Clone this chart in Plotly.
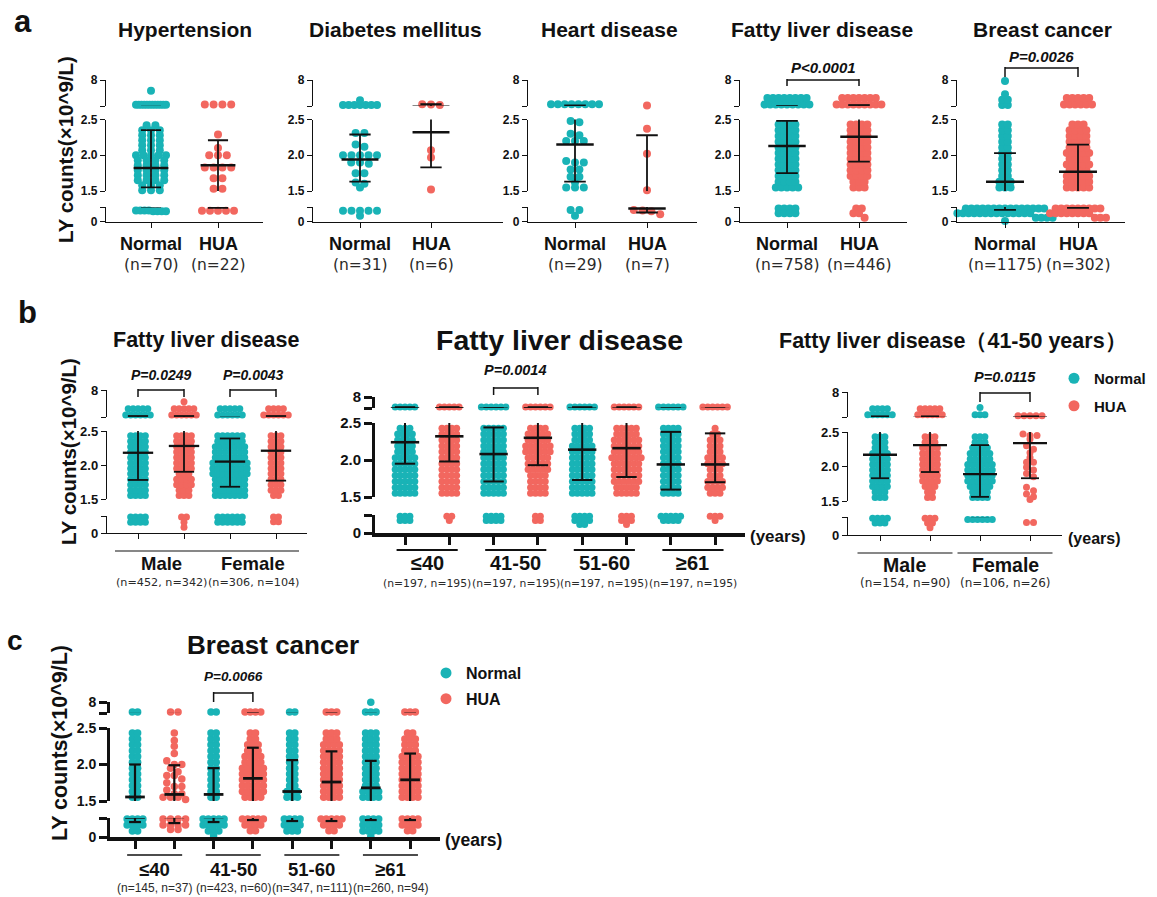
import plotly.graph_objects as go

W, H = 1157, 897
CYAN = "#19B3B6"
RED = "#F2675F"
INK = "#111111"
SANS = "Liberation Sans, Arial, Helvetica, sans-serif"
NSANS = "DejaVu Sans, Verdana, sans-serif"


def rep(values, counts):
    out = []
    for v, c in zip(values, counts):
        out.extend([v] * c)
    return out


# ---------------------------------------------------------------- data
# LY counts (x10^9/L); dense clouds as value bins + counts
MID_BINS = [1.55, 1.63, 1.71, 1.79, 1.87, 1.95, 2.03, 2.11, 2.19, 2.27, 2.35, 2.43]

# panel a
A_TITLES = ["Hypertension", "Diabetes mellitus", "Heart disease", "Fatty liver disease", "Breast cancer"]
A_GROUPS = ["Normal", "HUA"]
A_NLAB = [["(n=70)", "(n=22)"], ["(n=31)", "(n=6)"], ["(n=29)", "(n=7)"],
          ["(n=758)", "(n=446)"], ["(n=1175)", "(n=302)"]]

HYP_NORMAL = [2.75] * 12 + [5.7] + rep(
    [2.42, 2.35, 2.28, 2.21, 2.14, 2.07, 2.0, 1.93, 1.86, 1.79, 1.72, 1.65, 1.58, 1.51],
    [2, 3, 3, 3, 3, 3, 5, 4, 4, 4, 4, 4, 3, 3]) + [1.15] * 4 + [1.05] * 4
HYP_HUA = [2.8] * 4 + [2.29, 2.1, 2.0, 2.0, 2.0, 1.83, 1.83, 1.83, 1.83, 1.68, 1.68, 1.53, 1.53] + [1.1] * 5
HYP_MEAN, HYP_LO, HYP_HI = [1.82, 1.86], [1.55, 1.40], [2.35, 2.21]

DIA_NORMAL = [2.7] * 7 + [3.7] + [2.31, 2.31, 2.15, 2.12, 2.0, 2.0, 2.0, 2.0, 2.0, 1.9, 1.9, 1.88,
                                  1.75, 1.75, 1.62, 1.6, 1.55] + [1.1] * 5 + [0.6]
DIA_HUA = [2.7, 2.8, 2.85] + [2.07, 1.97, 1.52]
DIA_MEAN, DIA_LO, DIA_HI = [1.94, 2.32], [1.63, 1.83], [2.29, 2.9]

HRT_NORMAL = [2.85] * 8 + [2.48, 2.46, 2.3, 2.28, 2.2, 2.2, 2.2, 1.92, 1.9, 1.9, 1.8, 1.8, 1.7, 1.7,
                           1.62, 1.55, 1.55, 1.55] + [1.2, 1.2, 0.6]
HRT_HUA = [2.6] + [2.37, 2.02, 1.51] + [0.75, 1.2, 1.05, 1.15]
HRT_MEAN, HRT_LO, HRT_HI = [2.15, 1.34], [1.63, 0.93], [2.62, 2.28]

FLA_NORMAL = [2.8] * 9 + [4.2] * 8 + rep(MID_BINS, [5, 4, 4, 4, 4, 4, 4, 4, 4, 4, 4, 4]) + [1.35] * 4 + [0.85] * 4
FLA_HUA = [2.8] * 9 + [4.2] * 7 + rep(MID_BINS, [3, 3, 4, 4, 4, 4, 4, 4, 4, 4, 4, 4]) + [1.35] * 2 + [0.85] * 2 + [0.4]
FLA_MEAN, FLA_LO, FLA_HI = [2.13, 2.26], [1.75, 1.91], [2.48, 2.7]

BCA_NORMAL = [2.7] * 2 + [3.8] * 2 + [5.0, 7.8] + rep(MID_BINS, [3, 3, 2, 2, 2, 2, 2, 2, 2, 2, 2, 2]) + \
    [1.35] * 15 + [0.85] * 14 + [0.4] * 4 + [0.05]
BCA_HUA = [2.8] * 6 + [4.2] * 5 + rep(MID_BINS, [5, 5, 5, 4, 5, 4, 5, 4, 4, 4, 4, 3]) + [1.35] * 9 + [0.85] * 8 + [0.4] * 3
BCA_MEAN, BCA_LO, BCA_HI = [1.63, 1.77], [1.2, 1.40], [2.03, 2.15]

# panel b1 (sex)
B1_PAIRS = ["Male", "Female"]
B1_NLAB = ["(n=452, n=342)", "(n=306, n=104)"]
B1_MALE_N = [2.9] * 6 + [4.2] * 5 + rep(MID_BINS, [4] * 12) + [1.42] * 4 + [0.95] * 4
B1_MALE_H = [2.9] * 6 + [4.2] * 5 + [5.6] + rep(MID_BINS, [3, 3, 4, 4, 3, 4, 4, 4, 4, 4, 4, 4]) + [1.42] * 2 + [0.95, 0.5]
B1_FEM_N = [2.9] * 6 + [4.2] * 5 + rep(MID_BINS, [7, 7, 7, 7, 8, 8, 8, 7, 7, 7, 6, 6]) + [1.42] * 6 + [0.95] * 6
B1_FEM_H = [2.9] * 6 + [4.2] * 4 + rep(MID_BINS, [2, 3, 3, 3, 3, 3, 3, 3, 3, 3, 3, 3]) + [1.42] * 2 + [1.0] * 2
B1_MEAN, B1_LO, B1_HI = [2.18, 2.28, 2.05, 2.21], [1.78, 1.90, 1.68, 1.77], [2.7, 2.7, 2.39, 2.7]

# panel b2 (age)
AGE_PAIRS = ["≤40", "41-50", "51-60", "≥61"]
B2_NLAB = ["(n=197, n=195)"] * 4
B2_LE40_N = [3.0] * 5 + rep(MID_BINS, [5, 5, 5, 5, 5, 5, 5, 4, 4, 4, 4, 3]) + [1.4] * 3 + [1.05] * 3
B2_LE40_H = [3.0] * 5 + rep(MID_BINS, [4] * 12) + [1.4] * 2 + [1.05]
B2_4150_N = [3.0] * 6 + rep(MID_BINS, [5] * 12) + [1.4] * 4 + [1.05] * 4
B2_4150_H = [3.0] * 6 + rep(MID_BINS, [4, 4, 4, 4, 5, 5, 5, 6, 6, 5, 5, 4]) + [1.4] * 2 + [1.05] * 2
B2_5160_N = [3.0] * 6 + rep(MID_BINS, [5, 5, 5, 5, 5, 5, 5, 5, 5, 4, 4, 4]) + [1.4] * 4 + [1.05] * 4 + [0.7] * 2
B2_5160_H = [3.0] * 6 + rep(MID_BINS, [5, 5, 6, 6, 6, 6, 7, 6, 6, 6, 5, 5]) + [1.4] * 3 + [1.05] * 3 + [0.7]
B2_GE61_N = [3.0] * 6 + rep(MID_BINS, [4] * 12) + [1.4] * 5 + [1.05] * 4
B2_GE61_H = [3.0] * 6 + rep(MID_BINS, [3, 4, 4, 3, 3, 4, 4, 3, 3, 3, 2, 1]) + [1.4] * 3 + [1.05]
B2_MEAN = [2.24, 2.32, 2.08, 2.30, 2.14, 2.16, 1.94, 1.94]
B2_LO = [1.95, 1.98, 1.71, 1.93, 1.73, 1.77, 1.60, 1.70]
B2_HI = [2.9, 2.9, 2.44, 2.9, 2.9, 2.9, 2.38, 2.36]

# panel b3 (41-50 years, sex)
B3_NLAB = ["(n=154, n=90)", "(n=106, n=26)"]
B3_MALE_N = [3.0] * 6 + [4.3] * 4 + rep(MID_BINS, [3, 3, 4, 4, 4, 4, 4, 4, 4, 3, 3, 3]) + [1.4] * 4 + [1.0] * 3
B3_MALE_H = [3.0] * 6 + [4.3] * 5 + rep(MID_BINS, [2, 2, 3, 4, 4, 4, 4, 4, 4, 4, 3, 3]) + [1.4] * 3 + [1.0] * 2 + [0.6]
B3_FEM_N = [3.0] * 3 + [4.6] + rep(MID_BINS, [4, 4, 5, 6, 6, 6, 6, 5, 5, 4, 3, 3]) + [1.3] * 6
B3_FEM_H = [2.8] * 5 + [2.47, 2.45, 2.45, 2.4, 2.3, 2.25, 2.2, 2.13, 2.06, 2.06, 1.99, 1.95, 1.9, 1.85,
                        1.7, 1.65, 1.6, 1.56, 1.52] + [1.05] * 2
B3_MEAN, B3_LO, B3_HI = [2.17, 2.31, 1.89, 2.34], [1.83, 1.92, 1.56, 1.83], [2.65, 2.65, 2.31, 2.65]

# panel c (breast cancer, age)
C_NLAB = ["(n=145, n=37)", "(n=423, n=60)", "(n=347, n=111)", "(n=260, n=94)"]
C_LE40_N = [3.0] * 2 + rep(MID_BINS, [2] * 12) + [1.42] * 4 + [0.95] * 4 + [0.47] * 2
C_LE40_H = [3.0] * 2 + [2.43, 2.33, 2.25, 2.15, 2.05, 2.0, 2.0, 1.95, 1.9, 1.85, 1.85, 1.8, 1.75, 1.7, 1.7,
                        1.65, 1.6, 1.6, 1.55, 1.55, 1.55, 1.52] + [1.42] * 4 + [0.95] * 4 + [0.6] * 2
C_4150_N = [3.0] * 2 + rep(MID_BINS, [2] * 12) + [1.42] * 5 + [0.95] * 5 + [0.47] * 3 + [0.1]
C_4150_H = [3.0] * 4 + rep(MID_BINS, [4, 5, 5, 5, 5, 5, 4, 4, 3, 3, 2, 2]) + [1.42] * 5 + [0.95] * 4 + [0.5] * 2
C_5160_N = [3.0] * 2 + rep(MID_BINS, [3, 3, 2, 2, 2, 2, 2, 2, 2, 2, 2, 2]) + [1.42] * 4 + [0.95] * 4 + [0.47] * 3
C_5160_H = [3.0] * 3 + rep(MID_BINS, [4, 4, 4, 4, 4, 4, 4, 4, 4, 4, 3, 3]) + [1.42] * 5 + [0.95] * 4 + [0.5] * 2
C_GE61_N = [3.0] * 3 + [7.9] + rep(MID_BINS, [4, 4, 3, 3, 3, 3, 3, 3, 3, 3, 3, 3]) + [1.42] * 4 + [0.95] * 4 + [0.47] * 4 + [0.05]
C_GE61_H = [3.0] * 3 + rep(MID_BINS, [4, 4, 4, 4, 4, 4, 4, 4, 3, 3, 3, 2]) + [1.42] * 4 + [0.95] * 4 + [0.5] * 2
C_MEAN = [1.555, 1.59, 1.59, 1.81, 1.63, 1.76, 1.68, 1.79]
C_LO = [1.18, 1.10, 1.18, 1.34, 1.26, 1.26, 1.34, 1.34]
C_HI = [2.0, 1.99, 1.95, 2.23, 2.06, 2.18, 2.05, 2.15]

# ---------------------------------------------------------------- layout / styles
STY = {
    "a": dict(diam=8, mw=0.26, cw=0.15, lwm=2.5, lww=1.8, alw=1.4, xlw=1.4, tlen=5, tw=1.4, tfs=12),
    "b1": dict(diam=7, mw=0.33, cw=0.22, lwm=2.3, lww=1.8, alw=1.4, xlw=1.4, tlen=5, tw=1.4, tfs=13),
    "b2": dict(diam=7, mw=0.32, cw=0.23, lwm=2.6, lww=2.0, alw=3, xlw=3.5, tlen=8, tw=3, tfs=15),
    "b3": dict(diam=7, mw=0.34, cw=0.18, lwm=2.3, lww=1.8, alw=1.4, xlw=1.4, tlen=5, tw=1.4, tfs=13),
    "c": dict(diam=7.5, mw=0.25, cw=0.15, lwm=2.8, lww=2.2, alw=3, xlw=3.5, tlen=8, tw=3, tfs=14),
}
NH = [CYAN, RED]
YA = (80, 106, 119.5, 191, 207, 221.5)
D, S = 0.7, 1.1   # dot spacing factor: dense clouds overlap, sparse groups spread
PANELS = [
    dict(groups=[HYP_NORMAL, HYP_HUA], mean=HYP_MEAN, lo=HYP_LO, hi=HYP_HI,
         xl=106, xr=263, g0=151, gs=67, ypx=YA, sty="a", wmax=[15, 16], gap=[S, S]),
    dict(groups=[DIA_NORMAL, DIA_HUA], mean=DIA_MEAN, lo=DIA_LO, hi=DIA_HI,
         xl=313, xr=503, g0=360, gs=71, ypx=YA, sty="a", wmax=[17, 16], gap=[S, S]),
    dict(groups=[HRT_NORMAL, HRT_HUA], mean=HRT_MEAN, lo=HRT_LO, hi=HRT_HI,
         xl=528, xr=697, g0=575, gs=72, ypx=YA, sty="a", wmax=[24, 18], gap=[S, S]),
    dict(groups=[FLA_NORMAL, FLA_HUA], mean=FLA_MEAN, lo=FLA_LO, hi=FLA_HI,
         xl=740, xr=907, g0=787, gs=72, ypx=YA, sty="a", wmax=[50, 50], gap=[D, D]),
    dict(groups=[BCA_NORMAL, BCA_HUA], mean=BCA_MEAN, lo=BCA_LO, hi=BCA_HI,
         xl=957, xr=1125, g0=1005, gs=73, ypx=YA, sty="a", wmax=[50, 50], gap=[D, D]),
    dict(groups=[B1_MALE_N, B1_MALE_H, B1_FEM_N, B1_FEM_H], mean=B1_MEAN, lo=B1_LO, hi=B1_HI,
         xl=107, xr=307, g0=138, gs=46, ypx=(390, 417, 431, 499, 516, 533), sty="b1",
         wmax=[40] * 4, gap=[D] * 4),
    dict(groups=[B2_LE40_N, B2_LE40_H, B2_4150_N, B2_4150_H, B2_5160_N, B2_5160_H, B2_GE61_N, B2_GE61_H],
         mean=B2_MEAN, lo=B2_LO, hi=B2_HI,
         xl=375, xr=745, g0=405, gs=44.3, ypx=(397, 408, 423, 497, 515, 533), sty="b2",
         wmax=[40] * 8, gap=[D] * 8),
    dict(groups=[B3_MALE_N, B3_MALE_H, B3_FEM_N, B3_FEM_H], mean=B3_MEAN, lo=B3_LO, hi=B3_HI,
         xl=848, xr=1062, g0=880, gs=50, ypx=(392, 417, 432, 501, 517, 535), sty="b3",
         wmax=[40, 40, 40, 12], gap=[D, D, D, 1.0]),
    dict(groups=[C_LE40_N, C_LE40_H, C_4150_N, C_4150_H, C_5160_N, C_5160_H, C_GE61_N, C_GE61_H],
         mean=C_MEAN, lo=C_LO, hi=C_HI,
         xl=110, xr=440, g0=135, gs=39.3, ypx=(702, 713, 728, 801, 818, 837), sty="c",
         wmax=[40, 12, 40, 40, 40, 40, 40, 40], gap=[D, 1.0, D, D, D, D, D, D]),
]
SEGS = [(0.0, 1.5), (1.5, 2.5), (2.5, 8.0)]
SEG_TICKS = [([0, 1.5], ["0", ""]), ([1.5, 2.0, 2.5], ["1.5", "2.0", "2.5"]), ([2.5, 8], ["", "8"])]


def in_seg(v, s):
    if s == 0:
        return v < 1.5
    if s == 1:
        return 1.5 <= v <= 2.5
    return v > 2.5


def swarm(vals, pxu, diam, gap, wmax):
    """Deterministic row-based dot layout (Prism-like); returns x offsets in px."""
    order = sorted(range(len(vals)), key=lambda i: -vals[i])
    rows = []
    rowh = 0.55 * diam
    for i in order:
        y = vals[i] * pxu
        if rows and abs(rows[-1][0] - y) < rowh:
            rows[-1][1].append(i)
        else:
            rows.append([y, [i]])
    off = [0.0] * len(vals)
    for _, idx in rows:
        k = len(idx)
        sp = diam * gap
        if k > 1 and (k - 1) * sp > 2 * wmax:
            sp = 2 * wmax / (k - 1)
        for j, i in enumerate(idx):
            off[i] = (j - (k - 1) / 2) * sp
    return off


def axname(kind, i):
    return kind if i == 1 else f"{kind}{i}"


fig = go.Figure()
layout = {}
tickfont_base = dict(family=SANS, color=INK, weight="bold")

for p, P in enumerate(PANELS):
    st = STY[P["sty"]]
    xid = p + 1
    xname = axname("x", xid)
    y8, tb, y25, y15, lb, y0 = P["ypx"]
    seg_px = [(y0, lb), (y15, y25), (tb, y8)]
    n = len(P["groups"])
    gs = P["gs"]
    xr0 = -(P["g0"] - P["xl"]) / gs
    xr1 = (P["xr"] - P["g0"]) / gs
    low_name = axname("y", 3 * p + 1)
    layout[axname("xaxis", xid)] = dict(
        domain=[P["xl"] / W, P["xr"] / W], range=[xr0, xr1], anchor=low_name,
        showline=True, linecolor=INK, linewidth=st["xlw"], ticks="outside", ticklen=st["tlen"],
        tickwidth=st["tw"], tickcolor=INK, tickmode="array", tickvals=list(range(n)),
        showticklabels=False, showgrid=False, zeroline=False, fixedrange=True, automargin=False)
    colors = [NH[i % 2] for i in range(n)]
    for s, (r0, r1) in enumerate(SEGS):
        yid = 3 * p + 1 + s
        yname = axname("y", yid)
        bot, top = seg_px[s]
        tv, tt = SEG_TICKS[s]
        layout[axname("yaxis", yid)] = dict(
            domain=[1 - bot / H, 1 - top / H], range=[r0, r1], anchor=xname,
            showline=True, linecolor=INK, linewidth=st["alw"], ticks="outside", ticklen=st["tlen"],
            tickwidth=st["tw"], tickcolor=INK, tickmode="array", tickvals=tv, ticktext=tt,
            tickfont=dict(tickfont_base, size=st["tfs"]), showgrid=False, zeroline=False,
            fixedrange=True, automargin=False)
        pxu = (bot - top) / (r1 - r0)
        for color in (CYAN, RED):
            xs, ys = [], []
            for gi, vals in enumerate(P["groups"]):
                if colors[gi] != color:
                    continue
                sv = [v for v in vals if in_seg(v, s)]
                offs = swarm(sv, pxu, st["diam"], P["gap"][gi], P["wmax"][gi])
                xs += [gi + o / gs for o in offs]
                ys += sv
            fig.add_trace(go.Scatter(
                x=xs, y=ys, xaxis=xname, yaxis=yname, mode="markers", cliponaxis=False,
                marker=dict(color=color, size=st["diam"], line=dict(width=0)),
                showlegend=False, hoverinfo="skip"))
        mx, my, wx, wy = [], [], [], []
        for gi in range(n):
            m, lo, hi = P["mean"][gi], P["lo"][gi], P["hi"][gi]
            mx += [gi - st["mw"], gi + st["mw"], None]
            my += [m, m, None]
            wx += [gi - st["cw"], gi + st["cw"], None, gi - st["cw"], gi + st["cw"], None, gi, gi, None]
            wy += [hi, hi, None, lo, lo, None, lo, hi, None]
        fig.add_trace(go.Scatter(x=wx, y=wy, xaxis=xname, yaxis=yname, mode="lines",
                                 line=dict(color=INK, width=st["lww"]), showlegend=False, hoverinfo="skip"))
        fig.add_trace(go.Scatter(x=mx, y=my, xaxis=xname, yaxis=yname, mode="lines",
                                 line=dict(color=INK, width=st["lwm"]), showlegend=False, hoverinfo="skip"))

# legends (b3 and c)
for leg, pidx in (("legend", 7), ("legend2", 8)):
    for name, col in zip(A_GROUPS, NH):
        fig.add_trace(go.Scatter(
            x=[None], y=[None], xaxis=axname("x", pidx + 1), yaxis=axname("y", 3 * pidx + 2),
            mode="markers", marker=dict(color=col, size=11), name=name, legend=leg,
            legendgroup=leg + name, showlegend=True))

# ---------------------------------------------------------------- text & decorations
ann = []
shapes = []


def px_x(px):
    return px / W


def px_y(py):
    return 1 - py / H


def text(t, x, y, size, family=SANS, xref="paper", anchor="center", angle=0, color=INK):
    ann.append(dict(text=t, x=x if xref != "paper" else px_x(x), y=px_y(y), xref=xref, yref="paper",
                    showarrow=False, xanchor=anchor, yanchor="middle", textangle=angle,
                    font=dict(family=family, size=size, color=color)))


# panel letters
text("<b>a</b>", 23, 22, 31)
text("<b>b</b>", 27, 312, 31)
text("<b>c</b>", 15, 640, 28)
# y titles
text("<b>LY counts(×10^9/L)</b>", 65, 150, 20.5, angle=-90)
text("<b>LY counts(×10^9/L)</b>", 68, 452, 20.5, angle=-90)
text("<b>LY counts(×10^9/L)</b>", 60, 743, 21.5, angle=-90)

# panel a titles and group labels
for k, (title, cx) in enumerate(zip(A_TITLES, [185, 395, 610, 822, 1042])):
    text(f"<b>{title}</b>", cx, 29, 21)
    xr = axname("x", k + 1)
    for gi, g in enumerate(A_GROUPS):
        text(f"<b>{g}</b>", gi, 244, 18, xref=xr)
        text(A_NLAB[k][gi], gi, 265, 15.5, family=NSANS, xref=xr, color="#2a2a2a")

# panel b / c titles
text("<b>Fatty liver disease</b>", 206, 340, 21.5)
text("<b>Fatty liver disease</b>", 559, 340, 28.5)
text("<b>Fatty liver disease（41-50 years）</b>", 953, 341, 21.5)
text("<b>Breast cancer</b>", 273, 645, 26)

# pair labels with underlines
PAIR_SPECS = [
    (6, B1_PAIRS, B1_NLAB, 551, 1.0, 563, 18.5, 582, 11.2, NSANS, 1.2),
    (7, AGE_PAIRS, B2_NLAB, 550, 0.69, 563, 20, 583, 10.8, NSANS, 1.8),
    (8, B1_PAIRS, B3_NLAB, 553, 0.95, 565, 19.5, 583, 12, NSANS, 1.2),
    (9, AGE_PAIRS, C_NLAB, 855, 0.70, 869, 18.5, 888, 12, SANS, 1.4),
]
for xid, labels, nlabs, uy, uw, ly, lsz, ny, nsz, nfam, ulw in PAIR_SPECS:
    xr = axname("x", xid)
    for j, (lab, nl) in enumerate(zip(labels, nlabs)):
        c = 2 * j + 0.5
        shapes.append(dict(type="line", xref=xr, yref="paper", x0=c - uw, x1=c + uw,
                           y0=px_y(uy), y1=px_y(uy), line=dict(color=INK, width=ulw)))
        text(f"<b>{lab}</b>", c, ly, lsz, xref=xr)
        text(nl, c, ny, nsz, family=nfam, xref=xr, color="#2a2a2a")

# (years)
text("<b>(years)</b>", 748, 536, 17, anchor="left")
text("<b>(years)</b>", 1066, 538, 16, anchor="left")
text("<b>(years)</b>", 443, 840, 17.5, anchor="left")

# significance brackets
BRACKETS = [
    (4, 0, 1, 80, 6, "P&lt;0.0001", 67, 15),
    (5, 0, 1, 68, 9, "P=0.0026", 57, 15),
    (6, 0, 1, 390, 7, "P=0.0249", 375, 14),
    (6, 2, 3, 390, 7, "P=0.0043", 375, 14),
    (7, 2, 3, 388, 7, "P=0.0014", 370, 14.5),
    (8, 2, 3, 393, 9, "P=0.0115", 377, 14.5),
    (9, 2, 3, 693, 9, "P=0.0066", 676, 13.5),
]
for xid, ga, gb, by, drop, lab, ty, tsz in BRACKETS:
    xr = axname("x", xid)
    ln = dict(color=INK, width=1.5)
    shapes.append(dict(type="line", xref=xr, yref="paper", x0=ga, x1=gb, y0=px_y(by), y1=px_y(by), line=ln))
    shapes.append(dict(type="line", xref=xr, yref="paper", x0=ga, x1=ga, y0=px_y(by - 1), y1=px_y(by + drop), line=ln))
    shapes.append(dict(type="line", xref=xr, yref="paper", x0=gb, x1=gb, y0=px_y(by - 1), y1=px_y(by + drop), line=ln))
    text(f"<b><i>{lab}</i></b>", (ga + gb) / 2, ty, tsz, xref=xr)

layout.update(
    width=W, height=H, autosize=False, margin=dict(l=0, r=0, t=0, b=0, pad=0, autoexpand=False),
    paper_bgcolor="white", plot_bgcolor="white", showlegend=True,
    annotations=ann, shapes=shapes,
    legend=dict(x=px_x(1054), y=px_y(362), xanchor="left", yanchor="top", bgcolor="rgba(0,0,0,0)",
                font=dict(family=SANS, size=15, color=INK, weight="bold"), tracegroupgap=5,
                itemsizing="trace"),
    legend2=dict(x=px_x(426), y=px_y(656), xanchor="left", yanchor="top", bgcolor="rgba(0,0,0,0)",
                 font=dict(family=SANS, size=16, color=INK, weight="bold"), tracegroupgap=2,
                 itemsizing="trace"),
)
fig.update_layout(**layout)
fig.write_html("out.html", config={"displayModeBar": False},
               post_script="document.body.style.margin='0px';document.body.style.overflow='hidden';")
